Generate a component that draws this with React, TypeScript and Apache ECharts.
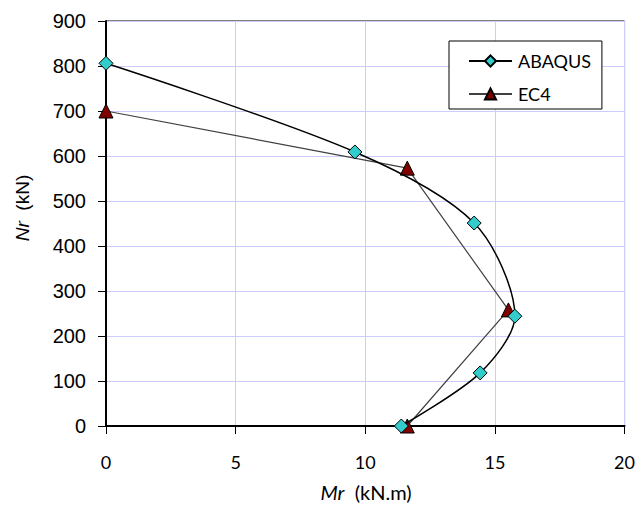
import React, { useEffect, useRef } from "react";
import * as echarts from "echarts";

const abaqusMr = [0, 9.6, 14.2, 15.77, 14.43, 11.39];
const abaqusNr = [806, 609, 451, 244, 118, 0];
const ec4Mr = [0, 11.62, 15.52, 11.62];
const ec4Nr = [700, 573, 258, 0];
const xTicks = { min: 0, max: 20, interval: 5 };
const yTicks = { min: 0, max: 900, interval: 100 };

const CAL = "Lato, 'Open Sans', sans-serif";
const ARIAL = "'Liberation Sans', Arial, sans-serif";

export default function App() {
  const ref = useRef<HTMLDivElement>(null);
  useEffect(() => {
    if (!ref.current) return;
    const chart = echarts.init(ref.current, undefined, { renderer: "svg" });
    const abaqus = abaqusMr.map((x, i) => [x, abaqusNr[i]]);
    const ec4 = ec4Mr.map((x, i) => [x, ec4Nr[i]]);
    chart.setOption({
      animation: false,
      backgroundColor: "#fff",
      grid: {
        left: 106,
        right: 10,
        top: 21,
        bottom: 79,
        show: true,
        borderColor: "#000",
        borderWidth: 1,
        backgroundColor: "transparent",
      },
      xAxis: {
        type: "value",
        ...xTicks,
        axisLine: { show: true, onZero: false, lineStyle: { color: "#000", width: 2 } },
        axisTick: { show: true, inside: false, length: 8, lineStyle: { color: "#000", width: 1 } },
        axisLabel: { color: "#000", fontFamily: CAL, fontSize: 18, margin: 27 },
        splitLine: { show: true, lineStyle: { color: "#CCCCFF", width: 1 } },
      },
      yAxis: {
        type: "value",
        ...yTicks,
        axisLine: { show: true, onZero: false, lineStyle: { color: "#000", width: 2 } },
        axisTick: { show: true, inside: false, length: 8, lineStyle: { color: "#000", width: 1 } },
        axisLabel: { color: "#000", fontFamily: ARIAL, fontSize: 20, margin: 20 },
        splitLine: { show: true, lineStyle: { color: "#CCCCFF", width: 1 } },
      },
      legend: {
        orient: "vertical",
        left: 449,
        top: 41,
        padding: [11, 11, 6, 19],
        itemGap: 15,
        itemWidth: 43,
        itemHeight: 14,
        backgroundColor: "#fff",
        borderColor: "#000",
        borderWidth: 1,
        borderRadius: 0,
        textStyle: { color: "#000", fontFamily: CAL, fontSize: 18, padding: [0, 0, 0, 1] },
        data: ["ABAQUS", "EC4"],
      },
      graphic: [
        {
          type: "text",
          x: 366,
          y: 492,
          style: {
            text: "{i|Mr}  (kN.m)",
            fontFamily: CAL,
            fontSize: 20,
            fill: "#000",
            align: "center",
            verticalAlign: "middle",
            rich: { i: { fontStyle: "italic", fontFamily: CAL, fontSize: 20 } },
          },
        },
        {
          type: "text",
          x: 22.5,
          y: 208,
          rotation: Math.PI / 2,
          style: {
            text: "{i|Nr}  (kN)",
            fontFamily: ARIAL,
            fontSize: 19,
            fill: "#000",
            align: "center",
            verticalAlign: "middle",
            rich: { i: { fontStyle: "italic", fontFamily: ARIAL, fontSize: 19 } },
          },
        },
      ],
      series: [
        {
          name: "EC4",
          type: "line",
          data: ec4,
          z: 2,
          symbol: "triangle",
          symbolSize: 14,
          lineStyle: { color: "#404040", width: 1.2 },
          itemStyle: { color: "#800000", borderColor: "#000", borderWidth: 1 },
        },
        {
          name: "ABAQUS",
          type: "line",
          data: abaqus,
          smooth: 0.3,
          z: 3,
          symbol: "diamond",
          symbolSize: 14,
          lineStyle: { color: "#000", width: 1.5 },
          itemStyle: { color: "#33CCCC", borderColor: "#000", borderWidth: 1 },
        },
      ],
    });
    return () => chart.dispose();
  }, []);
  return <div ref={ref} style={{ width: 638, height: 505, position: "absolute", left: 0, top: 0 }} />;
}
